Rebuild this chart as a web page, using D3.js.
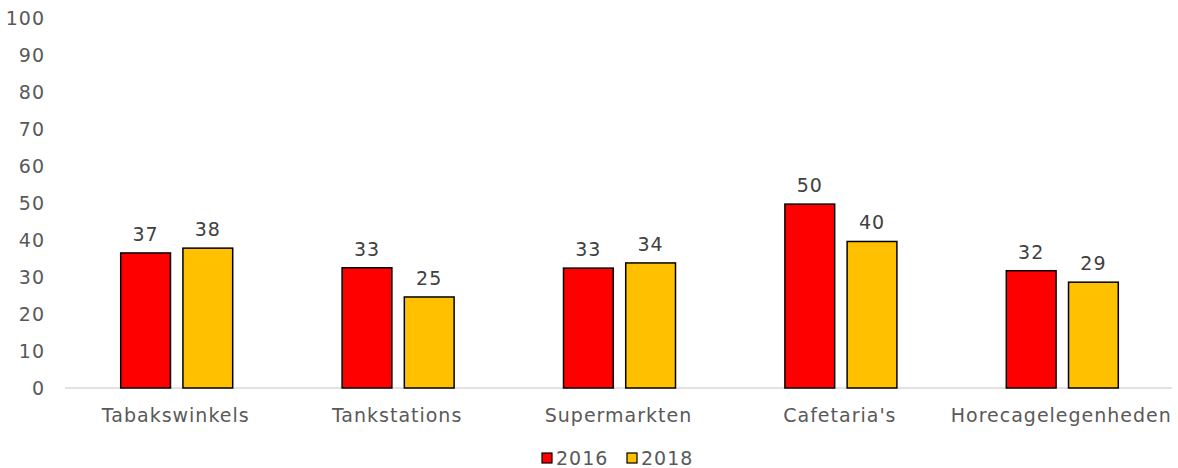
<!DOCTYPE html>
<html>
<head>
<meta charset="utf-8">
<script src="https://cdn.jsdelivr.net/npm/d3@7"></script>
<style>
  body { margin: 0; background: #fff; }
  svg text { font-family: "DejaVu Sans", Verdana, sans-serif; letter-spacing: 1px; }
</style>
</head>
<body>
<div id="chart"></div>
<script>
// categories and series
let categories = ["Tabakswinkels", "Tankstations", "Supermarkten", "Cafetaria's", "Horecagelegenheden"];
let series = ["2016", "2018"];
let values2016 = [36.5, 32.5, 32.4, 49.7, 31.7];
let values2018 = [37.8, 24.6, 33.8, 39.6, 28.6];
let labels2016 = ["37", "33", "33", "50", "32"];
let labels2018 = ["38", "25", "34", "40", "29"];
let yTicks = [0, 10, 20, 30, 40, 50, 60, 70, 80, 90, 100];

let colors = { "2016": "#ff0000", "2018": "#ffc000" };

let width = 1178, height = 468;
let margin = { left: 65, right: 6, top: 18, bottom: 80 };

let svg = d3.select("#chart").append("svg")
    .attr("width", width)
    .attr("height", height);

let x0 = d3.scaleBand()
    .domain(categories)
    .range([margin.left, width - margin.right]);

let x1 = d3.scaleBand()
    .domain(series)
    .range([0, 112])
    .paddingInner(0.2);

let y = d3.scaleLinear()
    .domain([0, 100])
    .range([height - margin.bottom, margin.top]);

// y axis labels (no line)
let yAxis = svg.append("g")
    .attr("transform", `translate(${margin.left - 20},0)`)
    .call(d3.axisLeft(y).tickValues(yTicks).tickSize(0).tickPadding(0));
yAxis.select(".domain").remove();
yAxis.selectAll("text")
    .attr("fill", "#595959")
    .style("font-size", "19px");

// baseline
svg.append("line")
    .attr("x1", margin.left)
    .attr("x2", width - margin.right)
    .attr("y1", y(0))
    .attr("y2", y(0))
    .attr("stroke", "#d9d9d9")
    .attr("stroke-width", 1.5);

// x labels
let xAxis = svg.append("g")
    .attr("transform", `translate(0,${y(0) + 20})`)
    .call(d3.axisBottom(x0).tickSize(0).tickPadding(0));
xAxis.select(".domain").remove();
xAxis.selectAll("text")
    .attr("fill", "#595959")
    .style("font-size", "19px");

let rows = categories.map((c, i) => ({
    cat: c,
    vals: [
        { key: "2016", v: values2016[i], lab: labels2016[i] },
        { key: "2018", v: values2018[i], lab: labels2018[i] }
    ]
}));

let groups = svg.selectAll("g.cat")
    .data(rows)
    .enter()
    .append("g")
    .attr("class", "cat")
    .attr("transform", d => `translate(${x0(d.cat) + x0.bandwidth() / 2 - 55},0)`);

groups.selectAll("rect")
    .data(d => d.vals)
    .enter()
    .append("rect")
    .attr("x", d => x1(d.key))
    .attr("y", d => y(d.v))
    .attr("width", x1.bandwidth())
    .attr("height", d => y(0) - y(d.v))
    .attr("fill", d => colors[d.key])
    .attr("stroke", "#000")
    .attr("stroke-width", 1.5);

groups.selectAll("text.lab")
    .data(d => d.vals)
    .enter()
    .append("text")
    .attr("class", "lab")
    .attr("x", d => x1(d.key) + x1.bandwidth() / 2)
    .attr("y", d => y(d.v) - 12)
    .attr("text-anchor", "middle")
    .attr("fill", "#404040")
    .style("font-size", "19px")
    .text(d => d.lab);

// legend
let legend = svg.append("g")
    .attr("transform", "translate(542,457)");

let items = legend.selectAll("g")
    .data(series)
    .enter()
    .append("g")
    .attr("transform", (d, i) => `translate(${i * 85},0)`);

items.append("rect")
    .attr("x", 0)
    .attr("y", -4)
    .attr("width", 10)
    .attr("height", 10)
    .attr("fill", d => colors[d])
    .attr("stroke", "#000")
    .attr("stroke-width", 1.2);

items.append("text")
    .attr("x", 14)
    .attr("y", 1)
    .attr("dy", "0.35em")
    .attr("fill", "#595959")
    .style("font-size", "19px")
    .text(d => d);
</script>
</body>
</html>
